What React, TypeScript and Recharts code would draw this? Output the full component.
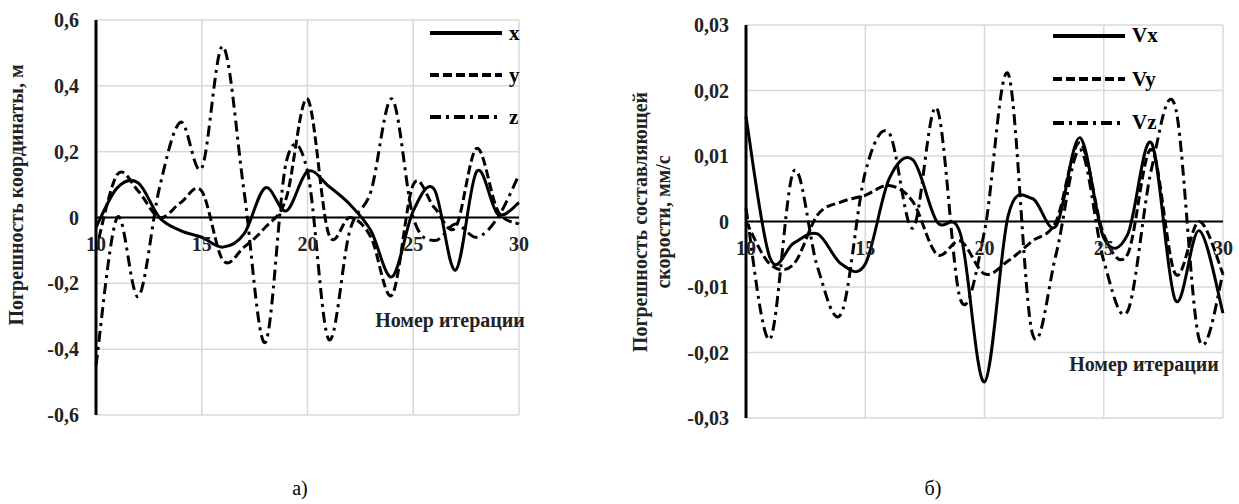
import React from "react";
import {
  LineChart,
  Line,
  XAxis,
  YAxis,
  CartesianGrid,
  ReferenceLine,
  Legend,
} from "recharts";

const FONT = '"Liberation Serif", "Times New Roman", serif';

// номер итерации
const ITER = [10, 11, 12, 13, 14, 15, 16, 17, 18, 19, 20, 21, 22, 23, 24, 25, 26, 27, 28, 29, 30];
const ITER_TICKS = [10, 15, 20, 25, 30];

// погрешность координат, м
const X_ERR = [-0.03, 0.09, 0.105, 0.0, -0.04, -0.06, -0.09, -0.05, 0.09, 0.02, 0.14, 0.095, 0.04, -0.04, -0.18, 0.02, 0.085, -0.16, 0.14, 0.01, 0.045];
const Y_ERR = [-0.1, 0.13, 0.08, 0.0, 0.045, 0.08, -0.13, -0.09, -0.03, 0.06, 0.36, -0.05, 0.0, -0.06, -0.235, 0.1, 0.03, -0.03, 0.21, 0.02, -0.02];
const Z_ERR = [-0.45, 0.0, -0.24, 0.09, 0.29, 0.15, 0.52, 0.08, -0.38, 0.17, 0.14, -0.37, -0.04, 0.08, 0.36, 0.0, -0.07, -0.02, -0.06, 0.0, 0.13];
const COORD_TICKS = [-0.6, -0.4, -0.2, 0, 0.2, 0.4, 0.6];

// погрешность составляющих скорости, мм/с
const VX_ERR = [0.016, -0.0055, -0.0033, -0.0019, -0.0065, -0.0065, 0.0065, 0.0094, 0.0, -0.002, -0.0245, 0.001, 0.0035, -0.0007, 0.0128, -0.0025, -0.002, 0.012, -0.012, -0.0014, -0.014];
const VY_ERR = [0.0, -0.0065, -0.0065, 0.001, 0.003, 0.004, 0.0055, 0.003, -0.005, -0.003, -0.008, -0.006, -0.003, 0.0, 0.012, -0.002, -0.005, 0.011, -0.008, 0.0, -0.008];
const VZ_ERR = [0.002, -0.018, 0.0077, -0.007, -0.014, 0.0075, 0.0135, -0.001, 0.0173, -0.012, -0.0015, 0.0225, -0.017, -0.005, 0.011, -0.006, -0.0137, 0.008, 0.0175, -0.018, -0.008];
const SPEED_TICKS = [-0.03, -0.02, -0.01, 0, 0.01, 0.02, 0.03];

const SOLID = undefined;
const DASH = "9 4";
const DASH_DOT = "11 5 3 5";

const coordRows = ITER.map((n, i) => ({ n, x: X_ERR[i], y: Y_ERR[i], z: Z_ERR[i] }));
const speedRows = ITER.map((n, i) => ({ n, vx: VX_ERR[i], vy: VY_ERR[i], vz: VZ_ERR[i] }));

const fmt = (digits: number) => (v: number) =>
  v === 0 ? "0" : v.toFixed(digits).replace(".", ",");

// сглаживание как в Excel: кривые Безье по схеме Катмулла–Рома
function excelSmooth(context: any) {
  let pts: number[][] = [];
  return {
    areaStart() {},
    areaEnd() {},
    lineStart() {
      pts = [];
    },
    point(x: number, y: number) {
      pts.push([+x, +y]);
    },
    lineEnd() {
      if (!pts.length) return;
      context.moveTo(pts[0][0], pts[0][1]);
      for (let i = 0; i < pts.length - 1; i++) {
        const p0 = pts[i - 1] || pts[i];
        const p1 = pts[i];
        const p2 = pts[i + 1];
        const p3 = pts[i + 2] || p2;
        context.bezierCurveTo(
          p1[0] + (p2[0] - p0[0]) / 6,
          p1[1] + (p2[1] - p0[1]) / 6,
          p2[0] - (p3[0] - p1[0]) / 6,
          p2[1] - (p3[1] - p1[1]) / 6,
          p2[0],
          p2[1]
        );
      }
    },
  };
}

type SeriesDef = { key: string; name: string; dash?: string };

function LegendBox({ series, rowH }: { series: SeriesDef[]; rowH: number }) {
  return (
    <div style={{ fontFamily: FONT }}>
      {series.map((s) => (
        <div key={s.key} style={{ display: "flex", alignItems: "center", height: rowH }}>
          <svg width={72} height={12}>
            <line x1={0} y1={6} x2={72} y2={6} stroke="#000" strokeWidth={4} strokeDasharray={s.dash} />
          </svg>
          <span style={{ marginLeft: 7, fontSize: 21, fontWeight: 700, lineHeight: 1 }}>{s.name}</span>
        </div>
      ))}
    </div>
  );
}

// подписи оси X ставятся под нулевой линией, как в Excel
function IterTick(props: any) {
  const { x, payload, zeroY } = props;
  return (
    <text x={x} y={zeroY + 33} textAnchor="middle" fontFamily={FONT} fontSize={20} fontWeight={700} fill="#222">
      {payload.value}
    </text>
  );
}

type PanelProps = {
  data: any[];
  series: SeriesDef[];
  ticks: number[];
  digits: number;
  width: number;
  height: number;
  margin: { top: number; right: number; bottom: number; left: number };
  legendPos: { left: number; top: number; rowH: number };
};

function Panel({ data, series, ticks, digits, width, height, margin, legendPos }: PanelProps) {
  const xAxisH = 20;
  const plotH = height - margin.top - margin.bottom - xAxisH;
  const zeroY = margin.top + plotH / 2;
  return (
    <LineChart width={width} height={height} data={data} margin={margin}>
      <CartesianGrid stroke="#d9d9d9" strokeWidth={1.5} />
      <XAxis
        dataKey="n"
        type="number"
        domain={[10, 30]}
        ticks={ITER_TICKS}
        interval={0}
        axisLine={false}
        tickLine={false}
        height={xAxisH}
        tick={(p: any) => <IterTick {...p} zeroY={zeroY} />}
      />
      <YAxis
        type="number"
        domain={[ticks[0], ticks[ticks.length - 1]]}
        ticks={ticks}
        interval={0}
        width={40}
        tickFormatter={fmt(digits)}
        tickLine={false}
        tickMargin={11}
        axisLine={{ stroke: "#000", strokeWidth: 3 }}
        tick={{ fill: "#222", fontSize: 20, fontWeight: 700, fontFamily: FONT }}
      />
      <ReferenceLine y={0} stroke="#000" strokeWidth={2} />
      {series.map((s) => (
        <Line
          key={s.key}
          dataKey={s.key}
          name={s.name}
          type={excelSmooth as any}
          stroke="#000"
          strokeWidth={3}
          strokeDasharray={s.dash}
          dot={false}
          isAnimationActive={false}
        />
      ))}
      {/* align center + middle: легенда не отнимает место у области построения */}
      <Legend
        layout="vertical"
        align="center"
        verticalAlign="middle"
        wrapperStyle={{ left: legendPos.left, top: legendPos.top, width: 130 }}
        content={() => <LegendBox series={series} rowH={legendPos.rowH} />}
      />
    </LineChart>
  );
}

const COORD_SERIES: SeriesDef[] = [
  { key: "x", name: "x", dash: SOLID },
  { key: "y", name: "y", dash: DASH },
  { key: "z", name: "z", dash: DASH_DOT },
];

const SPEED_SERIES: SeriesDef[] = [
  { key: "vx", name: "Vx", dash: SOLID },
  { key: "vy", name: "Vy", dash: DASH },
  { key: "vz", name: "Vz", dash: DASH_DOT },
];

const titleStyle: React.CSSProperties = {
  position: "absolute",
  fontFamily: FONT,
  fontWeight: 700,
  fontSize: 20,
  color: "#222",
  whiteSpace: "nowrap",
};

export default function App() {
  return (
    <div style={{ position: "absolute", left: 0, top: 0, width: 1239, height: 504, background: "#fff", overflow: "hidden" }}>
      <div style={{ position: "absolute", left: 0, top: 0 }}>
        <Panel
          data={coordRows}
          series={COORD_SERIES}
          ticks={COORD_TICKS}
          digits={1}
          width={540}
          height={440}
          margin={{ top: 20, right: 21, bottom: 5, left: 56 }}
          legendPos={{ left: 430, top: 12, rowH: 42 }}
        />
      </div>
      <div style={{ position: "absolute", left: 620, top: 0 }}>
        <Panel
          data={speedRows}
          series={SPEED_SERIES}
          ticks={SPEED_TICKS}
          digits={2}
          width={619}
          height={440}
          margin={{ top: 25, right: 16, bottom: 2, left: 86 }}
          legendPos={{ left: 433, top: 14, rowH: 43.5 }}
        />
      </div>

      {/* подписи осей */}
      <div style={{ ...titleStyle, left: 16, top: 195, transform: "translate(-50%, -50%) rotate(-90deg)" }}>
        Погрешность координаты, м
      </div>
      <div
        style={{
          ...titleStyle,
          left: 652,
          top: 222,
          textAlign: "center",
          lineHeight: "23px",
          transform: "translate(-50%, -50%) rotate(-90deg)",
        }}
      >
        Погрешность составляющей
        <br />
        скорости, мм/с
      </div>
      <div style={{ ...titleStyle, left: 450, top: 320, transform: "translate(-50%, -50%)" }}>Номер итерации</div>
      <div style={{ ...titleStyle, left: 1144, top: 364, transform: "translate(-50%, -50%)" }}>Номер итерации</div>

      <div style={{ position: "absolute", left: 300, top: 488, transform: "translate(-50%, -50%)", fontFamily: FONT, fontSize: 20 }}>
        а)
      </div>
      <div style={{ position: "absolute", left: 933, top: 488, transform: "translate(-50%, -50%)", fontFamily: FONT, fontSize: 20 }}>
        б)
      </div>
    </div>
  );
}
